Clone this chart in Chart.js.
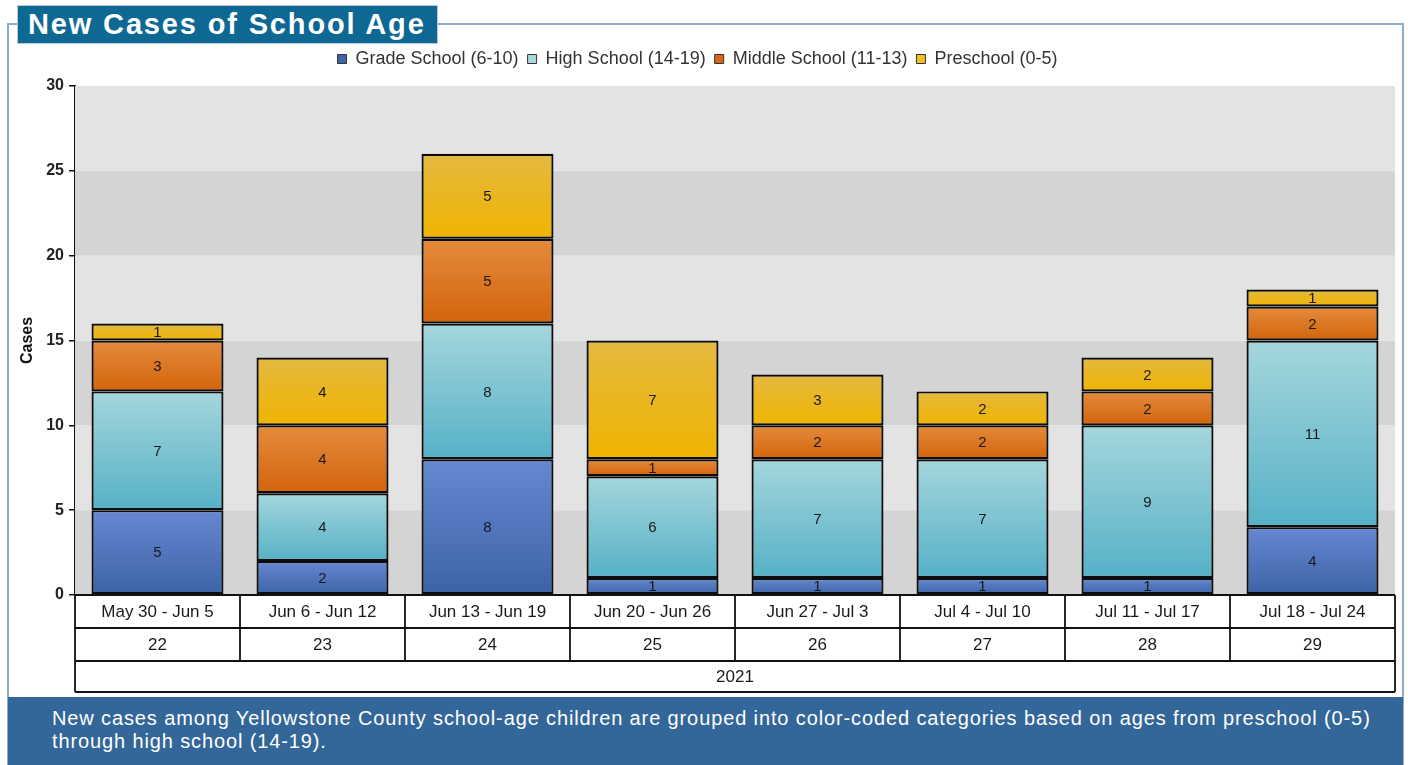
<!DOCTYPE html>
<html><head><meta charset="utf-8">
<script src="https://cdn.jsdelivr.net/npm/chart.js@4.4.1/dist/chart.umd.min.js"></script>
<style>
html,body{margin:0;padding:0;background:#fff;}
#wrap{position:relative;width:1408px;height:765px;overflow:hidden;font-family:"Liberation Sans",Arial,sans-serif;}
#frame{position:absolute;left:7px;top:23px;width:1397px;height:760px;border:2px solid #8dabcd;border-bottom:none;box-sizing:border-box;z-index:1;}
#title{position:absolute;left:17px;top:5px;width:421px;height:39px;background:#0d6894;border:1px solid #b9c9d8;box-sizing:border-box;color:#fff;font-weight:bold;font-size:29px;line-height:36px;padding-left:10px;letter-spacing:1.85px;white-space:nowrap;z-index:3;}
#cv{position:absolute;left:0;top:0;z-index:2;}
#footer{position:absolute;left:8px;top:697px;width:1395px;height:68px;background:#336699;color:#fff;font-size:20px;line-height:23px;letter-spacing:0.88px;padding:10px 0 0 44px;box-sizing:border-box;white-space:nowrap;z-index:3;}
</style></head>
<body>
<div id="wrap">
  <div id="frame"></div>
  <div id="title">New Cases of School Age</div>
  <canvas id="cv" width="1408" height="697"></canvas>
  <div id="footer">New cases among Yellowstone County school-age children are grouped into color-coded categories based on ages from preschool (0-5)<br>through high school (14-19).</div>
</div>
<script>
// ---- data ----
const weekRanges = ["May 30 - Jun 5","Jun 6 - Jun 12","Jun 13 - Jun 19","Jun 20 - Jun 26","Jun 27 - Jul 3","Jul 4 - Jul 10","Jul 11 - Jul 17","Jul 18 - Jul 24"];
const weekNumbers = ["22","23","24","25","26","27","28","29"];
const yearLabel = "2021";
const gradeSchool = [5,2,8,1,1,1,1,4];
const highSchool = [7,4,8,6,7,7,9,11];
const middleSchool = [3,4,5,1,2,2,2,2];
const preschool = [1,4,5,7,3,2,2,1];
const seriesNames = ["Grade School (6-10)","High School (14-19)","Middle School (11-13)","Preschool (0-5)"];
const yTicks = [0,5,10,15,20,25,30];

// ---- styles ----
const gradTop = ["#6688d2","#a5d6dc","#e48b3c","#e4b940"];
const gradBot = ["#3c63a6","#56b1c7","#d3640c","#f0b400"];
const legendFill = ["#3f64a8","#a8d8de","#d9661a","#f0c020"];
const FONT = '"Liberation Sans",Arial,sans-serif';
const seriesData = [gradeSchool, highSchool, middleSchool, preschool];

function segFill(dsIndex){
  return function(ctx){
    const chart = ctx.chart;
    const ys = chart.scales.y;
    if (!ys || ctx.dataIndex === undefined || !chart.chartArea) return gradBot[dsIndex];
    let start = 0;
    for (let k=0;k<dsIndex;k++) start += seriesData[k][ctx.dataIndex];
    const end = start + seriesData[dsIndex][ctx.dataIndex];
    const y0 = ys.getPixelForValue(end), y1 = ys.getPixelForValue(start);
    if (!isFinite(y0) || !isFinite(y1) || y0===y1) return gradBot[dsIndex];
    const g = chart.ctx.createLinearGradient(0,y0,0,y1);
    g.addColorStop(0,gradTop[dsIndex]);
    g.addColorStop(1,gradBot[dsIndex]);
    return g;
  };
}

// small empty layout box between legend and plot area
const spacerPlugin = {
  id:'spacer',
  beforeInit(chart){
    Chart.layouts.addBox(chart, {
      position:'top', weight:0, fullSize:true, options:{},
      left:0, top:0, right:0, bottom:0, width:0, height:0,
      isHorizontal(){ return true; },
      update(maxWidth){ this.width = maxWidth; this.height = 8; },
      draw(){}
    });
  }
};

const bandsPlugin = {
  id:'bands',
  beforeDatasetsDraw(chart){
    const {ctx, chartArea:a, scales:{y}} = chart;
    ctx.save();
    for (let i=0;i<yTicks.length-1;i++){
      const t = y.getPixelForValue(yTicks[i+1]), b = y.getPixelForValue(yTicks[i]);
      ctx.fillStyle = (i%2===0) ? '#d4d4d4' : '#e3e3e3';
      ctx.fillRect(a.left, t, a.right-a.left, b-t);
    }
    ctx.restore();
  }
};

const labelPlugin = {
  id:'segLabels',
  afterDatasetsDraw(chart){
    const ctx = chart.ctx;
    ctx.save();
    ctx.font = '15px ' + FONT;
    ctx.fillStyle = '#1a1a1a';
    ctx.textAlign = 'center';
    ctx.textBaseline = 'middle';
    chart.data.datasets.forEach((ds,di)=>{
      const meta = chart.getDatasetMeta(di);
      meta.data.forEach((el,i)=>{
        const v = ds.data[i];
        if (!v) return;
        ctx.fillText(String(v), el.x, (el.y+el.base)/2+1);
      });
    });
    ctx.restore();
  }
};

const tablePlugin = {
  id:'catTable',
  afterDraw(chart){
    const {ctx, chartArea:a, scales:{x}} = chart;
    const rows = [33,33,31];
    const top = a.bottom;
    const n = weekRanges.length;
    const half = (x.getPixelForValue(1)-x.getPixelForValue(0))/2;
    ctx.save();
    ctx.fillStyle = '#fff';
    ctx.fillRect(a.left, top, a.right-a.left, rows[0]+rows[1]+rows[2]);
    ctx.strokeStyle = '#111';
    ctx.lineWidth = 1.8;
    let y = top;
    const ys = [y];
    rows.forEach(h=>{ y+=h; ys.push(y); });
    ys.forEach(yy=>{ ctx.beginPath(); ctx.moveTo(a.left,yy); ctx.lineTo(a.right,yy); ctx.stroke(); });
    ctx.beginPath(); ctx.moveTo(a.left,ys[0]); ctx.lineTo(a.left,ys[3]); ctx.stroke();
    ctx.beginPath(); ctx.moveTo(a.right,ys[0]); ctx.lineTo(a.right,ys[3]); ctx.stroke();
    for (let i=1;i<n;i++){
      const xx = x.getPixelForValue(i)-half;
      ctx.beginPath(); ctx.moveTo(xx,ys[0]); ctx.lineTo(xx,ys[2]); ctx.stroke();
    }
    ctx.fillStyle = '#1a1a1a';
    ctx.font = '17px ' + FONT;
    ctx.textAlign = 'center';
    ctx.textBaseline = 'middle';
    for (let i=0;i<n;i++){
      const cx = x.getPixelForValue(i);
      ctx.fillText(weekRanges[i], cx, (ys[0]+ys[1])/2+1);
      ctx.fillText(weekNumbers[i], cx, (ys[1]+ys[2])/2+1);
    }
    ctx.fillText(yearLabel, (a.left+a.right)/2, (ys[2]+ys[3])/2+1);
    ctx.restore();
  }
};

new Chart(document.getElementById('cv'), {
  type:'bar',
  data:{
    labels: weekRanges,
    datasets: seriesNames.map((name,i)=>({
      label:name,
      data: seriesData[i],
      backgroundColor: segFill(i),
      borderColor:'#0d0d0d',
      borderWidth:2.2,
      borderSkipped:false,
      categoryPercentage:0.8,
      barPercentage:1.0
    }))
  },
  options:{
    responsive:false,
    animation:false,
    devicePixelRatio:1,
    layout:{padding:{top:41,right:13,left:0,bottom:0}},
    plugins:{
      legend:{
        position:'top',
        labels:{
          boxWidth:9, boxHeight:9, padding:9,
          color:'#333',
          font:{size:18, family:FONT},
          generateLabels(chart){
            return chart.data.datasets.map((ds,i)=>({
              text: ds.label, fillStyle: legendFill[i], strokeStyle:'#333', lineWidth:1,
              hidden:false, datasetIndex:i, fontColor:'#333'
            }));
          }
        }
      },
      tooltip:{enabled:false}
    },
    scales:{
      x:{
        stacked:true,
        grid:{display:false},
        border:{display:false},
        ticks:{display:false},
        afterFit(s){ s.height = 102; }
      },
      y:{
        stacked:true,
        min:0, max:30,
        afterBuildTicks(s){ s.ticks = yTicks.map(v=>({value:v})); },
        ticks:{color:'#222', font:{size:16, weight:'bold', family:FONT}, padding:5},
        grid:{drawOnChartArea:false, drawTicks:true, tickLength:6, color:'#111', lineWidth:1.5},
        border:{display:true, color:'#111', width:2},
        title:{display:true, text:'Cases', color:'#111', font:{size:16, weight:'bold', family:FONT}, padding:{top:18,bottom:0}},
        afterFit(s){ s.width = 75; }
      }
    }
  },
  plugins:[spacerPlugin, bandsPlugin, labelPlugin, tablePlugin]
});
</script>
</body></html>
